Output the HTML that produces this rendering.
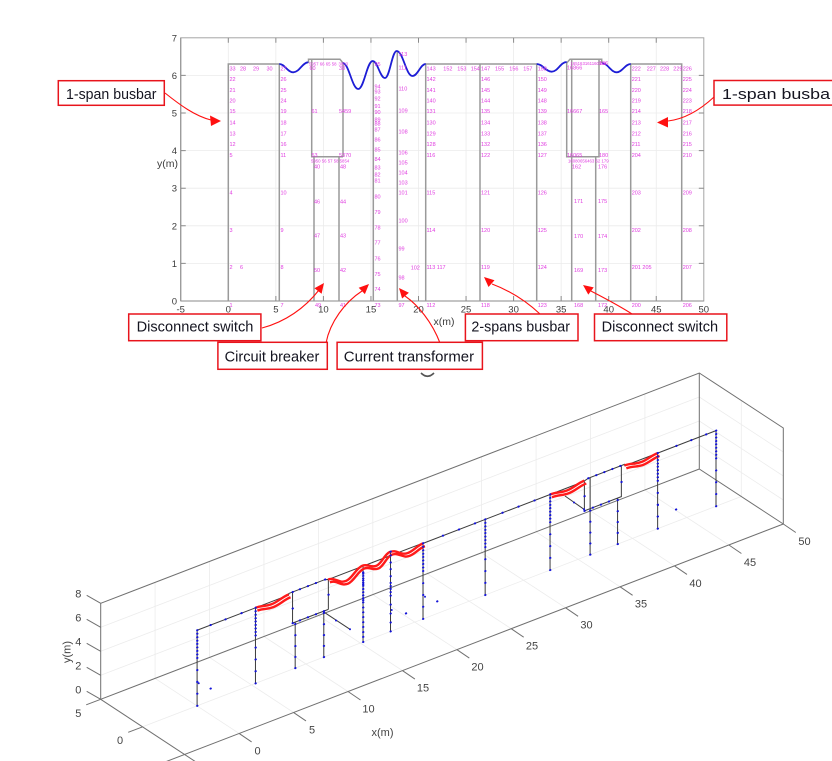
<!DOCTYPE html>
<html><head><meta charset="utf-8"><style>
html,body{margin:0;padding:0;background:#fff;overflow:hidden}
svg{display:block}
</style></head><body>
<svg width="832" height="761" viewBox="0 0 832 761" xmlns="http://www.w3.org/2000/svg" xmlns:xlink="http://www.w3.org/1999/xlink" font-family="Liberation Sans, sans-serif">

<!-- ================= 2D CHART ================= -->
<g stroke="#ebebeb" stroke-width="0.8">
<path d="M228.3,37.8V301M275.85,37.8V301M323.4,37.8V301M370.95,37.8V301M418.5,37.8V301M466.05,37.8V301M513.6,37.8V301M561.15,37.8V301M608.7,37.8V301M656.25,37.8V301"/>
<path d="M180.75,263.4H703.8M180.75,225.8H703.8M180.75,188.2H703.8M180.75,150.6H703.8M180.75,113H703.8M180.75,75.4H703.8"/>
</g>
<rect x="180.75" y="37.8" width="523.05" height="263.2" fill="none" stroke="#a6a6a6" stroke-width="1"/>
<path d="M180.75,301V37.8M180.75,301H703.8" stroke="#8a8a8a" stroke-width="1" fill="none"/>
<g stroke="#8a8a8a" stroke-width="1">
<path d="M228.3,301v-5M275.85,301v-5M323.4,301v-5M370.95,301v-5M418.5,301v-5M466.05,301v-5M513.6,301v-5M561.15,301v-5M608.7,301v-5M656.25,301v-5"/>
<path d="M228.3,37.8v5M275.85,37.8v5M323.4,37.8v5M370.95,37.8v5M418.5,37.8v5M466.05,37.8v5M513.6,37.8v5M561.15,37.8v5M608.7,37.8v5M656.25,37.8v5"/>
<path d="M180.75,263.4h5M180.75,225.8h5M180.75,188.2h5M180.75,150.6h5M180.75,113h5M180.75,75.4h5"/>
<path d="M703.8,263.4h-5M703.8,225.8h-5M703.8,188.2h-5M703.8,150.6h-5M703.8,113h-5M703.8,75.4h-5"/>
</g>
<g font-size="9.5" fill="#3c3c3c" text-anchor="middle">
<text x="180.75" y="312.5">-5</text><text x="228.3" y="312.5">0</text><text x="275.85" y="312.5">5</text><text x="323.4" y="312.5">10</text><text x="370.95" y="312.5">15</text><text x="418.5" y="312.5">20</text><text x="466.05" y="312.5">25</text><text x="513.6" y="312.5">30</text><text x="561.15" y="312.5">35</text><text x="608.7" y="312.5">40</text><text x="656.25" y="312.5">45</text><text x="703.8" y="312.5">50</text>
</g>
<g font-size="9.5" fill="#3c3c3c" text-anchor="end">
<text x="177" y="304.5">0</text><text x="177" y="266.9">1</text><text x="177" y="229.3">2</text><text x="177" y="191.7">3</text><text x="177" y="154.1">4</text><text x="177" y="116.5">5</text><text x="177" y="78.9">6</text><text x="177" y="41.3">7</text>
</g>
<text x="444" y="325" font-size="10.5" fill="#3c3c3c" text-anchor="middle">x(m)</text>
<text x="157" y="167" font-size="10.5" fill="#3c3c3c">y(m)</text>

<path d="M228.3,301V64H279.3V301 M425.7,301V64H536.7V301 M480,301V64 M630.7,301V64H681.7V301 M373.3,301V61 M397.3,301V51 M314,301V156.7 M339,301V156.7 M308.5,63V59.3H340L343,63V156.7 M311.7,59.3V156.7H343 M571.7,301V59.3 M595.7,301V156.7 M566.7,63L570,59.3H601.7V63 M566.7,63V156.7H599V59.3" fill="none" stroke="#9a9a9a" stroke-width="1.5"/>
<path d="M279.3,64C285,64 287.3,72.3 293.3,72.3C299.3,72.3 302.5,62.3 308.3,62.3 M342.7,63C349,63 352,89 358.3,89C364,89 367,61 372.7,61C377.6,61 380,78 385,78C389.7,78 392,51 396.7,51C403,51 406,76 412.5,76C417.8,76 420.4,64 425.7,64 M536.7,64C542.7,64 545.7,71.7 551.7,71.7C557.7,71.7 560.7,62 566.7,62 M601.7,63C607.7,63 610.7,72.3 616.7,72.3C622.3,72.3 625.1,64 630.7,64" fill="none" stroke="#1d1dd6" stroke-width="1.8"/>

<!-- magenta node labels -->
<g font-size="5.5" fill="#e03ce0">
<text x="229.5" y="70.3">33</text><text x="229.5" y="81">22</text><text x="229.5" y="92">21</text><text x="229.5" y="102.7">20</text><text x="229.5" y="113">15</text><text x="229.5" y="124.3">14</text><text x="229.5" y="135.3">13</text><text x="229.5" y="146">12</text><text x="229.5" y="157">5</text><text x="229.5" y="194.7">4</text><text x="229.5" y="232">3</text><text x="229.5" y="269">2</text><text x="229.5" y="307">1</text>
<text x="240" y="70.3">28</text><text x="253" y="70.3">29</text><text x="266.5" y="70.3">30</text><text x="240" y="269">6</text>
<text x="280.5" y="70.3">27</text><text x="280.5" y="81">26</text><text x="280.5" y="92">25</text><text x="280.5" y="102.7">24</text><text x="280.5" y="113">19</text><text x="280.5" y="124.3">18</text><text x="280.5" y="135.3">17</text><text x="280.5" y="146">16</text><text x="280.5" y="157">11</text><text x="280.5" y="194.7">10</text><text x="280.5" y="232">9</text><text x="280.5" y="269">8</text><text x="280.5" y="307">7</text>
<text x="309" y="65.3" font-size="4.3">5957 66 65 58</text><text x="338.5" y="65.3" font-size="4.3">3853</text><text x="309.5" y="70">60</text><text x="339" y="70">38</text>
<text x="311.5" y="113">61</text><text x="339" y="113">5459</text>
<text x="311.5" y="157">53</text><text x="339" y="157">5370</text><text x="311" y="162.5" font-size="4.3">5950 56 57 58 5854</text>
<text x="314" y="168.7">40</text><text x="340" y="168.7">48</text><text x="314" y="203.7">46</text><text x="340" y="203.7">44</text><text x="314" y="237.7">47</text><text x="340" y="237.7">43</text><text x="314" y="272">50</text><text x="340" y="272">42</text><text x="315" y="307">49</text><text x="340" y="307">41</text>
<text x="374.5" y="66">95</text><text x="374.5" y="88.7">94</text><text x="374.5" y="93.3">93</text><text x="374.5" y="100.3">92</text><text x="374.5" y="108">91</text><text x="374.5" y="114">90</text><text x="374.5" y="121.3">89</text><text x="374.5" y="125.7">88</text><text x="374.5" y="131.3">87</text><text x="374.5" y="141.3">86</text><text x="374.5" y="151.3">85</text><text x="374.5" y="161">84</text><text x="374.5" y="169.7">83</text><text x="374.5" y="176.3">82</text><text x="374.5" y="182.7">81</text><text x="374.5" y="198.7">80</text><text x="374.5" y="214">79</text><text x="374.5" y="229.3">78</text><text x="374.5" y="244.7">77</text><text x="374.5" y="260.3">76</text><text x="374.5" y="276">75</text><text x="374.5" y="291">74</text><text x="374.5" y="307">73</text>
<text x="398.5" y="56">113</text><text x="398.5" y="69.3">111</text><text x="398.5" y="90.7">110</text><text x="398.5" y="112.3">109</text><text x="398.5" y="133.7">108</text><text x="398.5" y="154.7">106</text><text x="398.5" y="164.7">105</text><text x="398.5" y="174.3">104</text><text x="398.5" y="184.3">103</text><text x="398.5" y="194.7">101</text><text x="398.5" y="222.7">100</text><text x="398.5" y="250.7">99</text><text x="398.5" y="279.3">98</text><text x="398.5" y="307">97</text><text x="410.7" y="269.3">102</text>
<text x="426.5" y="70.3">143</text><text x="426.5" y="81">142</text><text x="426.5" y="92">141</text><text x="426.5" y="102.7">140</text><text x="426.5" y="113">131</text><text x="426.5" y="124.3">130</text><text x="426.5" y="135.3">129</text><text x="426.5" y="146">128</text><text x="426.5" y="157">116</text><text x="426.5" y="194.7">115</text><text x="426.5" y="232">114</text><text x="426.5" y="269">113 117</text><text x="426.5" y="307">112</text>
<text x="443.3" y="70.3">152</text><text x="457.3" y="70.3">153</text><text x="470.7" y="70.3">154</text>
<text x="481" y="70.3">147</text><text x="481" y="81">146</text><text x="481" y="92">145</text><text x="481" y="102.7">144</text><text x="481" y="113">135</text><text x="481" y="124.3">134</text><text x="481" y="135.3">133</text><text x="481" y="146">132</text><text x="481" y="157">122</text><text x="481" y="194.7">121</text><text x="481" y="232">120</text><text x="481" y="269">119</text><text x="481" y="307">118</text>
<text x="495" y="70.3">155</text><text x="509.3" y="70.3">156</text><text x="523.3" y="70.3">157</text>
<text x="537.7" y="70.3">158</text><text x="537.7" y="81">150</text><text x="537.7" y="92">149</text><text x="537.7" y="102.7">148</text><text x="537.7" y="113">139</text><text x="537.7" y="124.3">138</text><text x="537.7" y="135.3">137</text><text x="537.7" y="146">136</text><text x="537.7" y="157">127</text><text x="537.7" y="194.7">126</text><text x="537.7" y="232">125</text><text x="537.7" y="269">124</text><text x="537.7" y="307">123</text>
<text x="570.5" y="64.8" font-size="4.3">165163161160158</text><text x="567" y="69.3">16866</text><text x="599" y="65">166</text>
<text x="567" y="113">16667</text><text x="599" y="113">165</text>
<text x="567" y="157">16065</text><text x="599" y="157">180</text><text x="568" y="162.5" font-size="4.3">16080656463 62 179</text>
<text x="572" y="168.7">162</text><text x="598" y="168.7">176</text><text x="574" y="203">171</text><text x="598" y="203">175</text><text x="574" y="238">170</text><text x="598" y="238">174</text><text x="574" y="272">169</text><text x="598" y="272">173</text><text x="574" y="307">168</text><text x="598" y="307">172</text>
<text x="631.7" y="70.3">222</text><text x="631.7" y="81">221</text><text x="631.7" y="92">220</text><text x="631.7" y="102.7">219</text><text x="631.7" y="113">214</text><text x="631.7" y="124.3">213</text><text x="631.7" y="135.3">212</text><text x="631.7" y="146">211</text><text x="631.7" y="157">204</text><text x="631.7" y="194.7">203</text><text x="631.7" y="232">202</text><text x="631.7" y="269">201 205</text><text x="631.7" y="307">200</text>
<text x="646.7" y="70.3">227</text><text x="660" y="70.3">228</text><text x="673.3" y="70.3">229</text>
<text x="682.7" y="70.3">226</text><text x="682.7" y="81">225</text><text x="682.7" y="92">224</text><text x="682.7" y="102.7">223</text><text x="682.7" y="113">218</text><text x="682.7" y="124.3">217</text><text x="682.7" y="135.3">216</text><text x="682.7" y="146">215</text><text x="682.7" y="157">210</text><text x="682.7" y="194.7">209</text><text x="682.7" y="232">208</text><text x="682.7" y="269">207</text><text x="682.7" y="307">206</text>
</g>

<!-- annotation arrows -->
<g fill="none" stroke="#ff1010" stroke-width="1.1">
<path d="M165,93 C180,105 195,116 211,120"/>
<path d="M714,97 C700,110 685,119 668,121"/>
<path d="M262,328 C285,322 305,308 319,290"/>
<path d="M326,343 C330,322 345,302 362,291"/>
<path d="M440,343 C432,322 418,305 405,296"/>
<path d="M540,314 C525,300 508,290 492,284"/>
<path d="M632,314 C618,305 604,298 591,291"/>
</g>
<g fill="#ff1010">
<polygon points="221,121 210,115.5 211,126"/>
<polygon points="657,122.5 668,117 668,127.5"/>
<polygon points="324,283 321.6,293.7 314.4,288.3"/>
<polygon points="369,284 364.9,294.1 358.7,287.7"/>
<polygon points="399,288 408.9,292.7 402.1,298.5"/>
<polygon points="484,277 494.5,280.2 488.5,287"/>
<polygon points="583,285 593.7,287.4 588.3,294.6"/>
</g>
<g fill="#fff" stroke="#e8141c" stroke-width="1.5">
<rect x="58.3" y="80.7" width="106" height="24.6"/>
<rect x="714" y="80.5" width="130" height="24.6"/>
<rect x="128.7" y="314" width="132.2" height="26.7"/>
<rect x="217.9" y="342.3" width="109.4" height="27"/>
<rect x="337.1" y="342.3" width="145.3" height="27"/>
<rect x="465.4" y="314" width="112.6" height="26.7"/>
<rect x="594.5" y="314" width="132.3" height="26.7"/>
</g>
<g font-size="14.5" fill="#141420">
<text x="66" y="99" textLength="90.5" lengthAdjust="spacingAndGlyphs">1-span busbar</text>
<text x="722" y="99" textLength="108" lengthAdjust="spacingAndGlyphs">1-span busba</text>
<text x="136.6" y="331.5" textLength="116.8" lengthAdjust="spacingAndGlyphs">Disconnect switch</text>
<text x="224.6" y="361.5" textLength="94.8" lengthAdjust="spacingAndGlyphs">Circuit breaker</text>
<text x="343.8" y="361.5" textLength="130.3" lengthAdjust="spacingAndGlyphs">Current transformer</text>
<text x="471.4" y="331.5" textLength="98.6" lengthAdjust="spacingAndGlyphs">2-spans busbar</text>
<text x="601.6" y="331.5" textLength="116.5" lengthAdjust="spacingAndGlyphs">Disconnect switch</text>
</g>
<path d="M421,373 Q427.5,379.5 434,373" fill="none" stroke="#555" stroke-width="1.6"/>

<!-- ================= 3D CHART ================= -->
<g stroke="#ececec" stroke-width="0.8" fill="none">
<path d="M100.7,675.3L699.3,445M100.7,651.3L699.3,421M100.7,627.3L699.3,397"/>
<path d="M155.1,678.4V582.4M209.5,657.4V561.4M263.96,636.5V540.5M318.4,615.6V519.6M372.8,594.6V498.6M427.2,573.7V477.7M481.6,552.8V456.8M536.1,531.8V435.8M590.5,510.9V414.9M644.9,490V394"/>
<path d="M155.1,678.4l84,55M209.5,657.4l84,55M263.96,636.5l84,55M318.4,615.6l84,55M372.8,594.6l84,55M427.2,573.7l84,55M481.6,552.8l84,55M536.1,531.8l84,55M590.5,510.9l84,55M644.9,490l84,55"/>
<path d="M142.7,726.8L741.3,496.5M741.3,496.5V400.5"/>
<path d="M699.3,445l84,55M699.3,421l84,55M699.3,397l84,55"/>
</g>
<g stroke="#707070" stroke-width="1" fill="none">
<path d="M100.7,603.3V699.3"/>
<path d="M100.7,603.3L699.3,373L783.3,428V524L165,762"/>
<path d="M699.3,373V469L783.3,524"/>
<path d="M100.7,699.3L699.3,469"/>
<path d="M100.7,699.3L196,762"/>
<path d="M239.1,733.4l12.5,8.5M293.5,712.4l12.5,8.5M348,691.5l12.5,8.5M402.4,670.6l12.5,8.5M456.8,649.6l12.5,8.5M511.2,628.7l12.5,8.5M565.6,607.8l12.5,8.5M620.1,586.8l12.5,8.5M674.5,565.9l12.5,8.5M728.9,545l12.5,8.5M783.3,524l12.5,8.5"/>
<path d="M100.7,699.3l-14.5,5.5M142.7,726.8l-14.5,5.5"/>
<path d="M100.7,699.3l-14,-8M100.7,675.3l-14,-8M100.7,651.3l-14,-8M100.7,627.3l-14,-8M100.7,603.3l-14,-8"/>
</g>
<g font-size="11" fill="#444" text-anchor="middle">
<text x="257.6" y="754.5">0</text><text x="312" y="733.5">5</text><text x="368.5" y="712.5">10</text><text x="423" y="691.5">15</text><text x="477.5" y="670.5">20</text><text x="532" y="649.5">25</text><text x="586.5" y="628.5">30</text><text x="641" y="607.5">35</text><text x="695.5" y="587">40</text><text x="750" y="566">45</text><text x="804.5" y="545">50</text>
<text x="78.3" y="717">5</text><text x="120" y="744">0</text>
<text x="78.3" y="693.5">0</text><text x="78.3" y="669.5">2</text><text x="78.3" y="645.5">4</text><text x="78.3" y="621.5">6</text><text x="78.3" y="597.5">8</text>
<text x="382.5" y="736">x(m)</text>
<text transform="translate(70.5,652) rotate(-90)">y(m)</text>
</g>

<!-- 3D structure -->
<g transform="matrix(1.14448 -0.44027 0 0.31915 -64.19 710.35)">
<path d="M228.3,301V64H279.3V301 M425.7,301V64H536.7V301 M480,301V64 M630.7,301V64H681.7V301 M373.3,301V61 M397.3,301V51 M314,301V156.7 M339,301V156.7 M308.5,63V59.3H340L343,63V156.7 M311.7,59.3V156.7H343 M571.7,301V59.3 M595.7,301V156.7 M566.7,63L570,59.3H601.7V63 M566.7,63V156.7H599V59.3 M279.3,64H308.5 M343,63H425.7 M536.7,64H566.7 M601.7,64H630.7" fill="none" stroke="#3c3c3c" stroke-width="1" vector-effect="non-scaling-stroke"/>
</g>
<path d="M323.3,611.7L350,629.3 M565,496L584,509.3" stroke="#3c3c3c" stroke-width="1" fill="none"/>
<g transform="translate(1.9,2.8)"><g transform="matrix(1.14448 -0.44027 0 0.31915 -64.19 710.35)">
<path d="M279.3,64C285,64 287.3,72.3 293.3,72.3C299.3,72.3 302.5,62.3 308.3,62.3 M342.7,63C349,63 352,89 358.3,89C364,89 367,61 372.7,61C377.6,61 380,78 385,78C389.7,78 392,51 396.7,51C403,51 406,76 412.5,76C417.8,76 420.4,64 425.7,64 M536.7,64C542.7,64 545.7,71.7 551.7,71.7C557.7,71.7 560.7,62 566.7,62 M601.7,63C607.7,63 610.7,72.3 616.7,72.3C622.3,72.3 625.1,64 630.7,64" fill="none" stroke="#ff1a1a" stroke-width="2.4" vector-effect="non-scaling-stroke"/>
</g></g>
<g transform="matrix(1.14448 -0.44027 0 0.31915 -64.19 710.35)">
<path d="M279.3,64C285,64 287.3,72.3 293.3,72.3C299.3,72.3 302.5,62.3 308.3,62.3 M342.7,63C349,63 352,89 358.3,89C364,89 367,61 372.7,61C377.6,61 380,78 385,78C389.7,78 392,51 396.7,51C403,51 406,76 412.5,76C417.8,76 420.4,64 425.7,64 M536.7,64C542.7,64 545.7,71.7 551.7,71.7C557.7,71.7 560.7,62 566.7,62 M601.7,63C607.7,63 610.7,72.3 616.7,72.3C622.3,72.3 625.1,64 630.7,64" fill="none" stroke="#ff1a1a" stroke-width="2.4" vector-effect="non-scaling-stroke"/>
</g>
<!-- 3D dots -->
<g transform="matrix(1.14448 -0.44027 0 0.31915 -64.19 710.35)" fill="none" stroke="#1414d8" stroke-width="2" stroke-linecap="round">
<path id="pd" vector-effect="non-scaling-stroke" d="M228.3,301h.3M228.3,263h.3M228.3,226h.3M228.3,189h.3M228.3,151h.3M228.3,140h.3M228.3,129h.3M228.3,118h.3M228.3,107h.3M228.3,97h.3M228.3,86h.3M228.3,75h.3M228.3,64h.3"/>
<use xlink:href="#pd" x="51"/>
<use xlink:href="#pd" x="197.4"/>
<use xlink:href="#pd" x="251.7"/>
<use xlink:href="#pd" x="308.4"/>
<use xlink:href="#pd" x="402.4"/>
<use xlink:href="#pd" x="453.4"/>
<path vector-effect="non-scaling-stroke" d="M240,64h.3M253,64h.3M267,64h.3M443,64h.3M457,64h.3M471,64h.3M495,64h.3M509,64h.3M523,64h.3M647,64h.3M660,64h.3M673,64h.3 M240,263h.3M410.7,263h.3M438,263h.3M646.7,263h.3"/>
<path vector-effect="non-scaling-stroke" d="M373.3,83h.3M373.3,87h.3M373.3,94h.3M373.3,102h.3M373.3,108h.3M373.3,115h.3M373.3,120h.3M373.3,125h.3M373.3,135h.3M373.3,145h.3M373.3,155h.3M373.3,164h.3M373.3,170h.3M373.3,177h.3M373.3,193h.3M373.3,208h.3M373.3,223h.3M373.3,239h.3M373.3,254h.3M373.3,270h.3M373.3,285h.3M373.3,301h.3"/>
<path vector-effect="non-scaling-stroke" d="M397.3,51h.3M397.3,63h.3M397.3,85h.3M397.3,106h.3M397.3,128h.3M397.3,149h.3M397.3,159h.3M397.3,168h.3M397.3,178h.3M397.3,189h.3M397.3,217h.3M397.3,245h.3M397.3,273h.3M397.3,301h.3"/>
<path vector-effect="non-scaling-stroke" d="M311.7,59.3h.3M318,59.3h.3M325,59.3h.3M332,59.3h.3M340,59.3h.3M311.7,111h.3M311.7,157h.3M318,157h.3M325,157h.3M332,157h.3M339,157h.3M343,111h.3 M314,301h.3M314,266h.3M314,232h.3M314,198h.3M314,163h.3M339,301h.3M339,266h.3M339,232h.3M339,198h.3M339,163h.3"/>
<path vector-effect="non-scaling-stroke" d="M570,59.3h.3M577,59.3h.3M584,59.3h.3M591,59.3h.3M598,59.3h.3M566.7,111h.3M566.7,157h.3M574,157h.3M581,157h.3M588,157h.3M599,111h.3 M571.7,301h.3M571.7,266h.3M571.7,232h.3M571.7,198h.3M571.7,163h.3M595.7,301h.3M595.7,266h.3M595.7,232h.3M595.7,198h.3M595.7,163h.3"/>
</g>
<g fill="#1414d8">
<circle cx="336" cy="620.5" r="1"/><circle cx="350" cy="629.3" r="1"/><circle cx="574" cy="502.5" r="1"/><circle cx="584" cy="509.3" r="1"/>
<circle cx="198.7" cy="683.3" r="1"/><circle cx="425" cy="596.7" r="1"/><circle cx="391.7" cy="610" r="1"/><circle cx="658" cy="505" r="1"/>
</g>
</svg>
</body></html>
